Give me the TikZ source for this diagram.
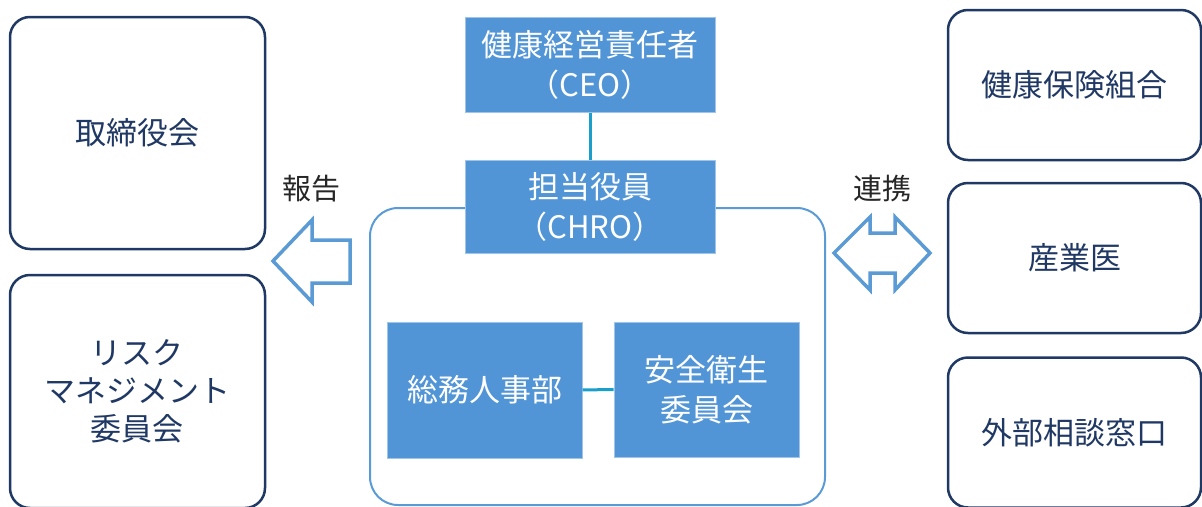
\documentclass[tikz,border=0pt]{standalone}
\usepackage{fontspec}
\setmainfont{Noto Sans CJK JP}
\usepackage{tikz}
\usetikzlibrary{positioning}
\definecolor{navyline}{HTML}{1F3864}
\definecolor{navytext}{HTML}{203864}
\definecolor{boxblue}{HTML}{5195D7}
\definecolor{lightblue}{HTML}{5B9BD5}
\definecolor{linkcyan}{HTML}{1A9FCB}
\definecolor{labelgray}{HTML}{262626}

\begin{document}
\begin{tikzpicture}[x=1pt, y=-1pt,
		partner/.style={draw=navyline, line width=2.5pt, rounded corners=20pt, fill=white, text=navytext,
			align=center, inner sep=0pt, font=\fontsize{31}{38}\selectfont},
		bluebox/.style={draw=boxblue!55!white, line width=1pt, fill=boxblue, text=white,
			align=center, inner sep=0pt, font=\fontsize{31}{40}\selectfont},
		blockarrow/.style={draw=lightblue, line width=3.5pt, line join=miter, fill=white},
		link/.style={draw=linkcyan, line width=3pt},
		tag/.style={text=labelgray, font=\fontsize{29}{34}\selectfont}]
		\useasboundingbox (0,0) rectangle (1202,506);
		\node[partner, minimum width=255pt, minimum height=232pt] (torishimari) at (137.5,133) {取締役会};
		\node[partner, minimum width=255pt, minimum height=233pt] (risk) at (137.5,391.5) {リスク\\マネジメント\\委員会};
		\foreach \name/\y/\txt in {kenpo/85/健康保険組合, sangyoi/258/産業医, soudan/432.5/外部相談窓口} {
			\node[partner, minimum width=253pt, minimum height=150pt] (\name) at (1074.5,\y) {\txt};
		}
		\node[draw=lightblue, line width=2pt, rounded corners=28pt, minimum width=455pt, minimum height=297pt] (team) at (597.5,356.5) {};
		\node[bluebox, minimum width=250pt, minimum height=95pt] (ceo) at (590,64.5) {健康経営責任者\\（CEO）};
		\node[bluebox, minimum width=250pt, minimum height=93pt] (chro) at (590,206.5) {担当役員\\（CHRO）};
		\node[bluebox, minimum width=195pt, minimum height=136pt] (soumu) at (484.5,390) {総務人事部};
		\node[bluebox, minimum width=185pt, minimum height=135pt] (anzen) at (706.5,389.5) {安全衛生\\委員会};
		\draw[link] (ceo) -- (chro);
		\draw[link] (soumu) -- (anzen);
		\draw[blockarrow] (273,261) -- (312,220) -- (312,240) -- (350,240) -- (350,283) -- (312,283) -- (312,302) -- cycle;
		\draw[blockarrow] (834,253) -- (870,217) -- (870,233) -- (895,233) -- (895,217) -- (930,253)
			-- (895,290) -- (895,273) -- (870,273) -- (870,290) -- cycle;
		\node[tag] (houkoku) at (311,189) {報告};
		\node[tag] (renkei) at (882,189) {連携};
	\end{tikzpicture}
\end{document}
